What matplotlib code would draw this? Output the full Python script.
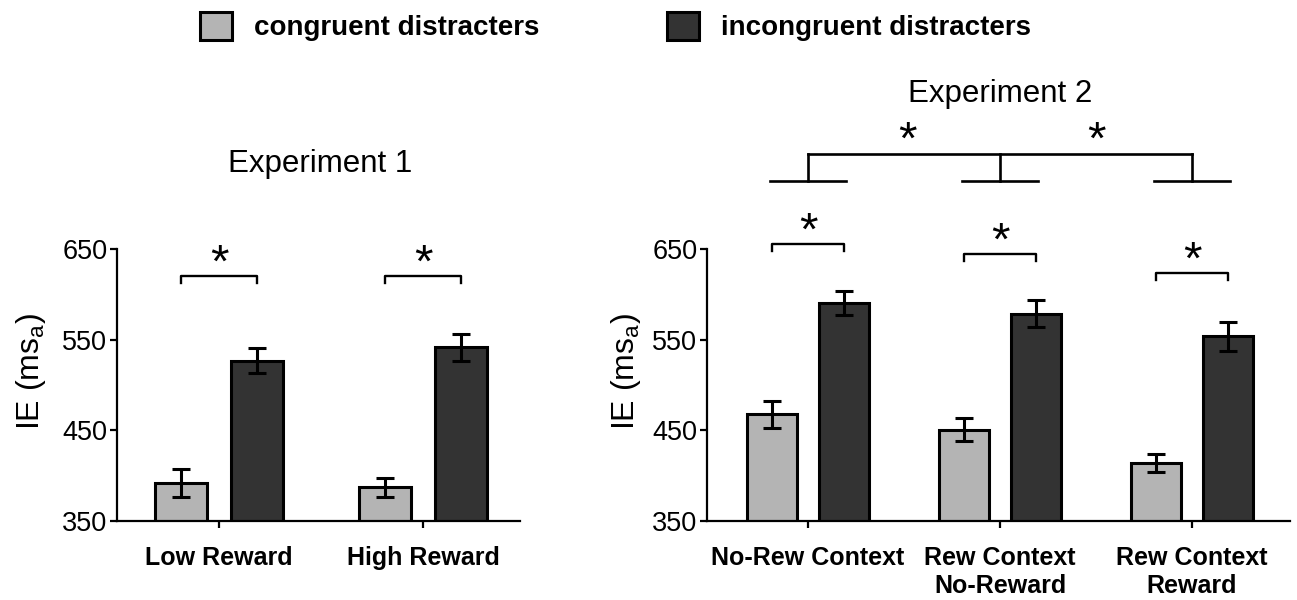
import numpy as np
import matplotlib
matplotlib.use('Agg')
import matplotlib.pyplot as plt
from matplotlib.patches import Patch

plt.rcParams['font.family'] = ['Liberation Sans', 'DejaVu Sans']
plt.rcParams['mathtext.default'] = 'regular'

# data
exp1_labels = ['Low Reward', 'High Reward']
exp1_cong = [392, 387]
exp1_cong_err = [15, 11]
exp1_incong = [527, 542]
exp1_incong_err = [14, 15]
exp1_sig_y = [621, 621]

exp2_labels = ['No-Rew Context', 'Rew Context\nNo-Reward', 'Rew Context\nReward']
exp2_cong = [468, 451, 414]
exp2_cong_err = [15, 13, 10]
exp2_incong = [591, 579, 554]
exp2_incong_err = [13, 15, 16]
exp2_sig_y = [656, 645, 624]

light = '#b4b4b4'
dark = '#333333'
off = 0.187
w = 0.258

fig = plt.figure(figsize=(12.97, 6), dpi=100)
ax1 = fig.add_axes([0.0902, 0.1317, 0.3107, 0.4528])
ax2 = fig.add_axes([0.5451, 0.1317, 0.4495, 0.4528])


def star(ax, x, y):
    ax.text(x, y, '*', ha='center', va='center', fontsize=34, clip_on=False)


def panel(ax, labels, cong, cerr, incong, ierr, sig_y, xlim):
    x = np.arange(len(labels))
    ekw = dict(elinewidth=2.2, capthick=2.2, capsize=6.8, ecolor='black', zorder=3)
    ax.bar(x - off, cong, w, yerr=cerr, color=light, edgecolor='black',
           linewidth=2.2, error_kw=ekw, zorder=2)
    ax.bar(x + off, incong, w, yerr=ierr, color=dark, edgecolor='black',
           linewidth=2.2, error_kw=ekw, zorder=2)
    ax.set_ylim(350, 650)
    ax.set_xlim(*xlim)
    ax.set_yticks([350, 450, 550, 650])
    ax.set_xticks(x)
    ax.set_xticklabels(labels, fontweight='bold', fontsize=18, linespacing=1.22)
    ax.tick_params(axis='y', labelsize=19.5, length=5, width=1.6, pad=2)
    ax.tick_params(axis='x', length=5, width=1.6, pad=13)
    for s in ['top', 'right']:
        ax.spines[s].set_visible(False)
    for s in ['left', 'bottom']:
        ax.spines[s].set_linewidth(1.6)
    ax.set_ylabel(r'IE (ms$_{a}$)', fontsize=23)
    # significance brackets between the two bars of each group
    for xi, yy in zip(x, sig_y):
        ax.plot([xi - off, xi - off, xi + off, xi + off], [yy - 8, yy, yy, yy - 8],
                color='black', lw=1.7, clip_on=False)
        star(ax, xi, yy + 12)


panel(ax1, exp1_labels, exp1_cong, exp1_cong_err, exp1_incong, exp1_incong_err,
      exp1_sig_y, (-0.5, 1.4755))
panel(ax2, exp2_labels, exp2_cong, exp2_cong_err, exp2_incong, exp2_incong_err,
      exp2_sig_y, (-0.526, 2.51))
ax1.yaxis.set_label_coords(-0.172, 0.55)
ax2.yaxis.set_label_coords(-0.11, 0.55)

ax1.text(0.495, 744, 'Experiment 1', ha='center', va='center', fontsize=22.5)
ax2.text(1.0, 822, 'Experiment 2', ha='center', va='center', fontsize=22.5)

# comparison across contexts (experiment 2)
y_lo, y_hi = 725, 755
for xi in range(3):
    ax2.plot([xi - 0.198, xi + 0.198], [y_lo, y_lo], color='black', lw=1.9, clip_on=False)
    ax2.plot([xi, xi], [y_lo, y_hi], color='black', lw=1.9, clip_on=False)
ax2.plot([0, 2], [y_hi, y_hi], color='black', lw=1.9, clip_on=False)
for xs in [0.52, 1.5]:
    star(ax2, xs, y_hi + 14)

handles = [Patch(facecolor=light, edgecolor='black', linewidth=2.2, label='congruent distracters'),
           Patch(facecolor=dark, edgecolor='black', linewidth=2.2, label='incongruent distracters')]
fig.legend(handles=handles, loc='upper left', bbox_to_anchor=(200 / 1297, 1 - 12 / 600),
           ncol=2, frameon=False, prop=dict(weight='bold', size=20),
           handlelength=1.15, handleheight=1.15, handletextpad=0.8, columnspacing=4.6,
           borderpad=0, borderaxespad=0)

fig.savefig('out.png', dpi=100)
